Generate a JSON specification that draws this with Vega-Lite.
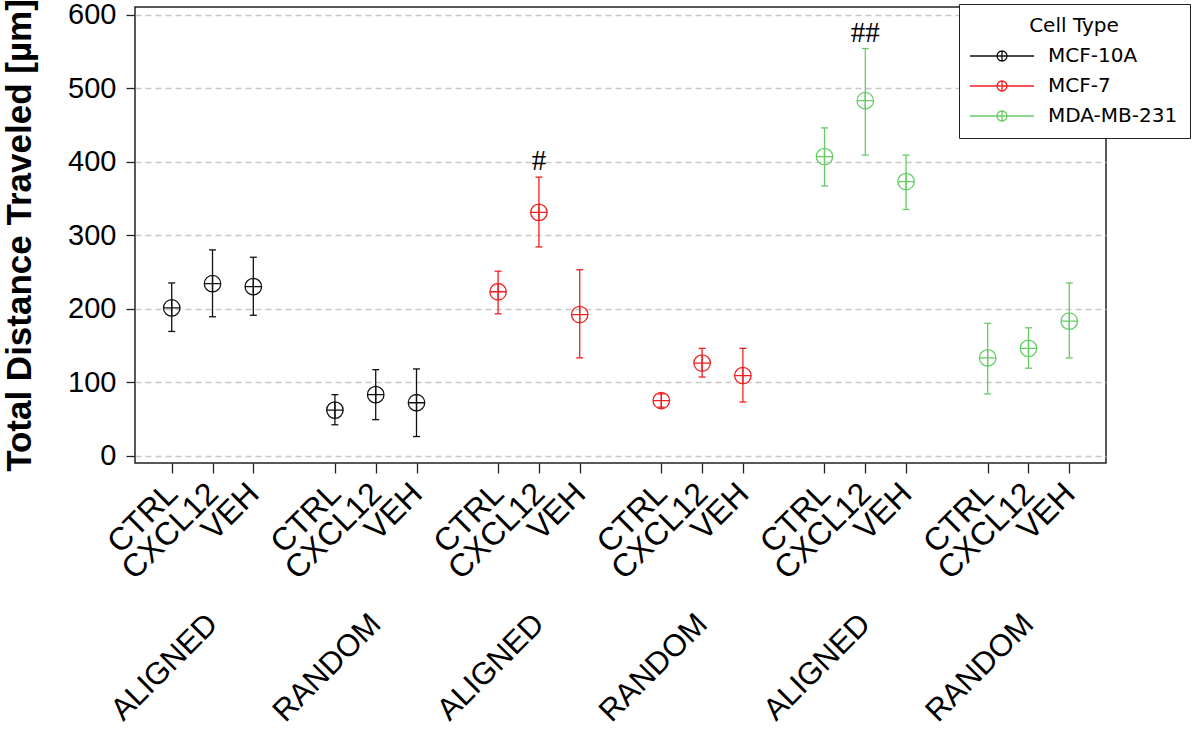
{
  "$schema": "https://vega.github.io/schema/vega-lite/v6.json",
  "autosize": {"type": "none"},
  "padding": {"left": 135, "top": 7, "right": 94, "bottom": 273},
  "width": 971,
  "height": 456,
  "background": "white",
  "config": {
    "view": {"stroke": "#222222", "strokeWidth": 1.5},
    "font": "Liberation Sans"
  },
  "data": {
    "values": [
      {"id": "MCF-10A|ALIGNED|CTRL", "cell": "MCF-10A", "surface": "ALIGNED", "treatment": "CTRL", "mean": 201, "lo": 169, "hi": 235, "sig": ""},
      {"id": "MCF-10A|ALIGNED|CXCL12", "cell": "MCF-10A", "surface": "ALIGNED", "treatment": "CXCL12", "mean": 234, "lo": 189, "hi": 280, "sig": ""},
      {"id": "MCF-10A|ALIGNED|VEH", "cell": "MCF-10A", "surface": "ALIGNED", "treatment": "VEH", "mean": 230, "lo": 191, "hi": 270, "sig": ""},
      {"id": "MCF-10A|RANDOM|CTRL", "cell": "MCF-10A", "surface": "RANDOM", "treatment": "CTRL", "mean": 62, "lo": 42, "hi": 83, "sig": ""},
      {"id": "MCF-10A|RANDOM|CXCL12", "cell": "MCF-10A", "surface": "RANDOM", "treatment": "CXCL12", "mean": 83, "lo": 49, "hi": 117, "sig": ""},
      {"id": "MCF-10A|RANDOM|VEH", "cell": "MCF-10A", "surface": "RANDOM", "treatment": "VEH", "mean": 72, "lo": 26, "hi": 118, "sig": ""},
      {"id": "MCF-7|ALIGNED|CTRL", "cell": "MCF-7", "surface": "ALIGNED", "treatment": "CTRL", "mean": 223, "lo": 193, "hi": 251, "sig": ""},
      {"id": "MCF-7|ALIGNED|CXCL12", "cell": "MCF-7", "surface": "ALIGNED", "treatment": "CXCL12", "mean": 331, "lo": 284, "hi": 379, "sig": "#"},
      {"id": "MCF-7|ALIGNED|VEH", "cell": "MCF-7", "surface": "ALIGNED", "treatment": "VEH", "mean": 192, "lo": 133, "hi": 253, "sig": ""},
      {"id": "MCF-7|RANDOM|CTRL", "cell": "MCF-7", "surface": "RANDOM", "treatment": "CTRL", "mean": 75, "lo": 66, "hi": 84, "sig": ""},
      {"id": "MCF-7|RANDOM|CXCL12", "cell": "MCF-7", "surface": "RANDOM", "treatment": "CXCL12", "mean": 126, "lo": 107, "hi": 146, "sig": ""},
      {"id": "MCF-7|RANDOM|VEH", "cell": "MCF-7", "surface": "RANDOM", "treatment": "VEH", "mean": 109, "lo": 73, "hi": 146, "sig": ""},
      {"id": "MDA-MB-231|ALIGNED|CTRL", "cell": "MDA-MB-231", "surface": "ALIGNED", "treatment": "CTRL", "mean": 407, "lo": 367, "hi": 446, "sig": ""},
      {"id": "MDA-MB-231|ALIGNED|CXCL12", "cell": "MDA-MB-231", "surface": "ALIGNED", "treatment": "CXCL12", "mean": 483, "lo": 409, "hi": 554, "sig": "##"},
      {"id": "MDA-MB-231|ALIGNED|VEH", "cell": "MDA-MB-231", "surface": "ALIGNED", "treatment": "VEH", "mean": 373, "lo": 335, "hi": 409, "sig": ""},
      {"id": "MDA-MB-231|RANDOM|CTRL", "cell": "MDA-MB-231", "surface": "RANDOM", "treatment": "CTRL", "mean": 133, "lo": 84, "hi": 180, "sig": ""},
      {"id": "MDA-MB-231|RANDOM|CXCL12", "cell": "MDA-MB-231", "surface": "RANDOM", "treatment": "CXCL12", "mean": 146, "lo": 119, "hi": 174, "sig": ""},
      {"id": "MDA-MB-231|RANDOM|VEH", "cell": "MDA-MB-231", "surface": "RANDOM", "treatment": "VEH", "mean": 183, "lo": 133, "hi": 235, "sig": ""}
    ]
  },
  "resolve": {"axis": {"x": "independent"}},
  "layer": [
    {
      "mark": {
        "type": "point", "filled": false, "strokeWidth": 1.3, "opacity": 1,
        "shape": "M-1,0A1,1,0,1,1,1,0A1,1,0,1,1,-1,0ZM-1,0L1,0M0,-1L0,1",
        "size": 272
      },
      "encoding": {
        "x": {"field": "id", "type": "nominal", "axis": null},
        "y": {
          "field": "mean", "type": "quantitative",
          "title": "Total Distance Traveled [µm]",
          "scale": {"domain": [-10, 610.5], "nice": false, "zero": false},
          "axis": {
            "values": [0, 100, 200, 300, 400, 500, 600],
            "labelFont": "Liberation Sans",
            "labelFontSize": 29,
            "labelColor": "black",
            "labelPadding": 10,
            "tickSize": 9,
            "tickWidth": 1.3,
            "tickColor": "#222222",
            "domain": false,
            "grid": true,
            "gridColor": "#c8c8c8",
            "gridDash": [6, 4],
            "gridWidth": 1.3,
            "titleFont": "Liberation Sans",
            "titleFontSize": 35,
            "titleFontWeight": "bold",
            "titleColor": "black",
            "titlePadding": 30
          }
        },
        "color": {
          "field": "cell", "type": "nominal", "title": "Cell Type",
          "scale": {"domain": ["MCF-10A", "MCF-7", "MDA-MB-231"], "range": ["#111111", "#f02020", "#66cc66"]},
          "legend": {
            "orient": "none",
            "legendX": 824,
            "legendY": -3,
            "strokeColor": "#222222",
            "fillColor": "white",
            "padding": 12,
            "cornerRadius": 0,
            "titleFont": "DejaVu Sans",
            "titleFontSize": 20,
            "titleFontWeight": "normal",
            "titleColor": "black",
            "titleAnchor": "middle",
            "titlePadding": 10,
            "labelFont": "DejaVu Sans",
            "labelFontSize": 20,
            "labelColor": "black",
            "symbolType": "M-6.4,0L-1,0M1,0L6.4,0M-1,0A1,1,0,1,1,1,0A1,1,0,1,1,-1,0ZM-1,0L1,0M0,-1L0,1",
            "symbolSize": 100,
            "symbolStrokeWidth": 1.3,
            "symbolFillColor": "transparent",
            "symbolOpacity": 1,
            "symbolOffset": 21,
            "labelOffset": 36,
            "rowPadding": 10
          }
        }
      }
    },
    {
      "mark": {"type": "rule", "strokeWidth": 1.3},
      "encoding": {
        "x": {
          "field": "id", "type": "nominal", "title": null,
          "scale": {
            "type": "point", "padding": 0.9,
            "domain": [
              "MCF-10A|ALIGNED|CTRL", "MCF-10A|ALIGNED|CXCL12", "MCF-10A|ALIGNED|VEH", "gap1",
              "MCF-10A|RANDOM|CTRL", "MCF-10A|RANDOM|CXCL12", "MCF-10A|RANDOM|VEH", "gap2",
              "MCF-7|ALIGNED|CTRL", "MCF-7|ALIGNED|CXCL12", "MCF-7|ALIGNED|VEH", "gap3",
              "MCF-7|RANDOM|CTRL", "MCF-7|RANDOM|CXCL12", "MCF-7|RANDOM|VEH", "gap4",
              "MDA-MB-231|ALIGNED|CTRL", "MDA-MB-231|ALIGNED|CXCL12", "MDA-MB-231|ALIGNED|VEH", "gap5",
              "MDA-MB-231|RANDOM|CTRL", "MDA-MB-231|RANDOM|CXCL12", "MDA-MB-231|RANDOM|VEH"
            ]
          },
          "axis": {
            "orient": "bottom",
            "values": [
              "MCF-10A|ALIGNED|CTRL", "MCF-10A|ALIGNED|CXCL12", "MCF-10A|ALIGNED|VEH",
              "MCF-10A|RANDOM|CTRL", "MCF-10A|RANDOM|CXCL12", "MCF-10A|RANDOM|VEH",
              "MCF-7|ALIGNED|CTRL", "MCF-7|ALIGNED|CXCL12", "MCF-7|ALIGNED|VEH",
              "MCF-7|RANDOM|CTRL", "MCF-7|RANDOM|CXCL12", "MCF-7|RANDOM|VEH",
              "MDA-MB-231|ALIGNED|CTRL", "MDA-MB-231|ALIGNED|CXCL12", "MDA-MB-231|ALIGNED|VEH",
              "MDA-MB-231|RANDOM|CTRL", "MDA-MB-231|RANDOM|CXCL12", "MDA-MB-231|RANDOM|VEH"
            ],
            "labelExpr": "split(datum.value, '|')[2]",
            "labelAngle": -45,
            "labelAlign": "right",
            "labelBaseline": "middle",
            "labelFont": "Liberation Sans",
            "labelFontSize": 32,
            "labelColor": "black",
            "labelPadding": 15,
            "labelOverlap": false,
            "labelBound": false,
            "tickSize": 10,
            "tickWidth": 1.3,
            "tickColor": "#222222",
            "domain": false,
            "grid": false
          }
        },
        "y": {"field": "lo", "type": "quantitative"},
        "y2": {"field": "hi"},
        "color": {"field": "cell", "type": "nominal"}
      }
    },
    {
      "mark": {"type": "point", "filled": false, "strokeWidth": 1.3, "opacity": 1, "shape": "M-1,0L1,0", "size": 49},
      "encoding": {
        "x": {
          "field": "id", "type": "nominal",
          "axis": {
            "orient": "bottom",
            "values": [
              "MCF-10A|ALIGNED|CXCL12", "MCF-10A|RANDOM|CXCL12",
              "MCF-7|ALIGNED|CXCL12", "MCF-7|RANDOM|CXCL12",
              "MDA-MB-231|ALIGNED|CXCL12", "MDA-MB-231|RANDOM|CXCL12"
            ],
            "labelExpr": "split(datum.value, '|')[1]",
            "title": null,
            "offset": 144,
            "ticks": false,
            "domain": false,
            "grid": false,
            "labelAngle": -45,
            "labelAlign": "right",
            "labelBaseline": "middle",
            "labelFont": "Liberation Sans",
            "labelFontSize": 31,
            "labelColor": "black",
            "labelPadding": 12,
            "labelOverlap": false,
            "labelBound": false
          }
        },
        "y": {"field": "lo", "type": "quantitative"},
        "color": {"field": "cell", "type": "nominal"}
      }
    },
    {
      "mark": {"type": "point", "filled": false, "strokeWidth": 1.3, "opacity": 1, "shape": "M-1,0L1,0", "size": 49},
      "encoding": {
        "x": {"field": "id", "type": "nominal", "axis": null},
        "y": {"field": "hi", "type": "quantitative"},
        "color": {"field": "cell", "type": "nominal"}
      }
    },
    {
      "mark": {"type": "text", "font": "Liberation Serif", "fontSize": 29, "baseline": "middle", "dy": -16, "color": "black"},
      "encoding": {
        "x": {"field": "id", "type": "nominal", "axis": null},
        "y": {"field": "hi", "type": "quantitative"},
        "text": {"field": "sig"}
      }
    }
  ]
}
